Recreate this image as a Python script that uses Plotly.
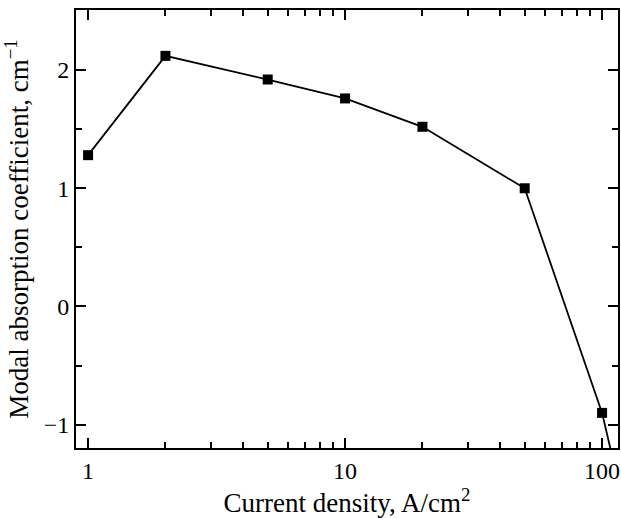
import plotly.graph_objects as go

current_density = [1, 2, 5, 10, 20, 50, 100, 200]
absorption = [1.28, 2.12, 1.92, 1.76, 1.52, 1.00, -0.90, -3.7]

x_tickvals = [1, 10, 100]
x_ticktext = ["1", "10", "100"]
x_minor_vals = [2, 3, 4, 5, 6, 7, 8, 9, 20, 30, 40, 50, 60, 70, 80, 90]
y_tickvals = [-1, 0, 1, 2]
y_ticktext = ["\u22121", "0", "1", "2"]

family = "Liberation Serif, Times New Roman, serif"
tick_font = dict(family=family, size=24, color="black")
title_font = dict(family=family, size=27, color="black")

fig = go.Figure()
fig.add_trace(go.Scatter(
    x=current_density, y=absorption, mode="lines+markers",
    line=dict(color="black", width=1.8),
    marker=dict(symbol="square", size=10, color="black"),
    cliponaxis=True, showlegend=False,
))

fig.update_xaxes(
    type="log", range=[-0.047, 2.062], automargin=False,
    tickvals=x_tickvals, ticktext=x_ticktext, ticklabeloverflow="allow",
    ticks="inside", ticklen=10, tickwidth=1.5, tickcolor="black",
    minor=dict(ticks="inside", ticklen=6, tickwidth=1.5, tickcolor="black",
               tickvals=x_minor_vals, showgrid=False),
    showline=True, linecolor="black", linewidth=2, mirror="ticks",
    showgrid=False, zeroline=False,
    title=dict(text="Current density, A/cm<sup>2</sup>", font=title_font, standoff=2),
    tickfont=tick_font,
)
fig.update_yaxes(
    range=[-1.197, 2.508], automargin=False,
    tickvals=y_tickvals, ticktext=y_ticktext, ticklabeloverflow="allow",
    ticks="inside", ticklen=10, tickwidth=1.5, tickcolor="black",
    minor=dict(ticks="inside", ticklen=6, tickwidth=1.5, tickcolor="black", dtick=0.5, showgrid=False),
    showline=True, linecolor="black", linewidth=2, mirror="ticks",
    showgrid=False, zeroline=False,
    title=dict(text="Modal absorption coefficient, cm<sup>\u22121</sup>", font=title_font, standoff=8),
    tickfont=tick_font,
)
fig.update_layout(
    width=621, height=518,
    margin=dict(l=76, r=3, t=10, b=70),
    paper_bgcolor="white", plot_bgcolor="white",
    font=tick_font,
)
fig.write_html(
    "out.html",
    config={"displayModeBar": False},
    post_script="document.body.style.margin='0';document.body.style.overflow='hidden';",
)
